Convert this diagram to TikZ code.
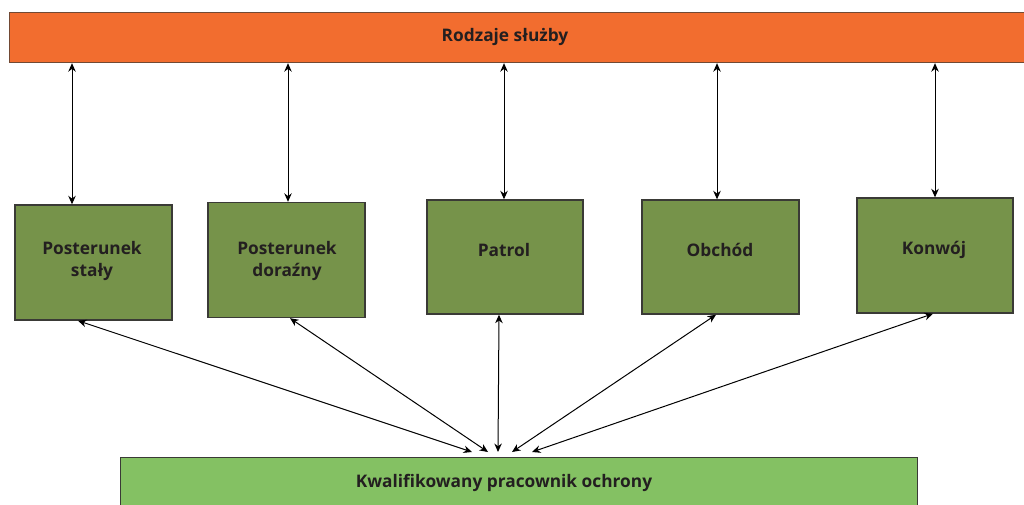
\documentclass[tikz,border=0pt]{standalone}
\usepackage{fontspec}
\setmainfont{Open Sans}
\usetikzlibrary{arrows.meta,calc}
\definecolor{orangebar}{HTML}{F26D2F}
\definecolor{darkgreen}{HTML}{76934A}
\definecolor{lightgreen}{HTML}{84C163}
\definecolor{txt}{HTML}{231F20}
\definecolor{edge}{HTML}{3A3A36}
\tikzset{
  gbox/.style={draw=edge, line width=1.4pt, fill=darkgreen, minimum width=157pt, minimum height=115pt, inner sep=0pt},
  arr/.style={draw=black, line width=1pt, {Stealth[length=8.5pt,width=7.5pt]}-{Stealth[length=8.5pt,width=7.5pt]}},
  lbl/.style={text=txt, align=center, font=\bfseries\fontsize{17.3}{22}\selectfont, inner sep=0pt}
}
\begin{document}
\begin{tikzpicture}[x=1pt,y=-1pt]
\useasboundingbox (0,0) rectangle (1024,505);
\clip (0,0) rectangle (1024,505);
\fill[white] (0,0) rectangle (1024,505);
% top bar
\node[draw=edge!70!orangebar, line width=1.2pt, fill=orangebar, minimum width=1030pt, minimum height=50pt, inner sep=0pt, anchor=north west] (top) at (9,12) {};
\node[lbl] (toptext) at (505,37) {Rodzaje służby};
% bottom bar
\node[draw=edge, line width=1.2pt, fill=lightgreen, minimum width=797pt, minimum height=56pt, inner sep=0pt, anchor=north west] (bot) at (120,457) {};
\node[lbl] (bottext) at (504,483) {Kwalifikowany pracownik ochrony};
% green boxes
\node[gbox] (b1) at (93.5,262.5) {};
\node[gbox] (b2) at (286.5,260) {};
\node[gbox, minimum width=156pt, minimum height=114pt] (b3) at (505,257) {};
\node[gbox, minimum height=114pt] (b4) at (720.5,257) {};
\node[gbox, minimum width=156pt] (b5) at (935,255.5) {};
\node[lbl] (l1) at (92,261) {Posterunek\\stały};
\node[lbl] (l2) at (287,261) {Posterunek\\doraźny};
\node[lbl] (l3) at (504,250) {Patrol};
\node[lbl] (l4) at (720,250) {Obchód};
\node[lbl] (l5) at (934,250) {Konwój};
% top arrows
\draw[arr] (top.south -| 72,0) -- (b1.north -| 72,0);
\draw[arr] (top.south -| 288,0) -- (b2.north -| 288,0);
\draw[arr] (top.south -| 504,0) -- (b3.north -| 504,0);
\draw[arr] (top.south -| 717,0) -- (b4.north -| 717,0);
\draw[arr] (top.south -| 935,0) -- (b5.north -| 935,0);
% bottom targets
\coordinate (t1) at (472,452);
\coordinate (t2) at (488,452);
\coordinate (t3) at (498,452);
\coordinate (t4) at (512,452);
\coordinate (t5) at (532,452);
\draw[arr] (b1.south -| 78,0) -- (t1);
\draw[arr] (b2.south -| 290,0) -- (t2);
\draw[arr] (b3.south -| 499,0) -- (t3);
\draw[arr] (b4.south -| 716,0) -- (t4);
\draw[arr] (b5.south -| 933,0) -- (t5);
\end{tikzpicture}
\end{document}
